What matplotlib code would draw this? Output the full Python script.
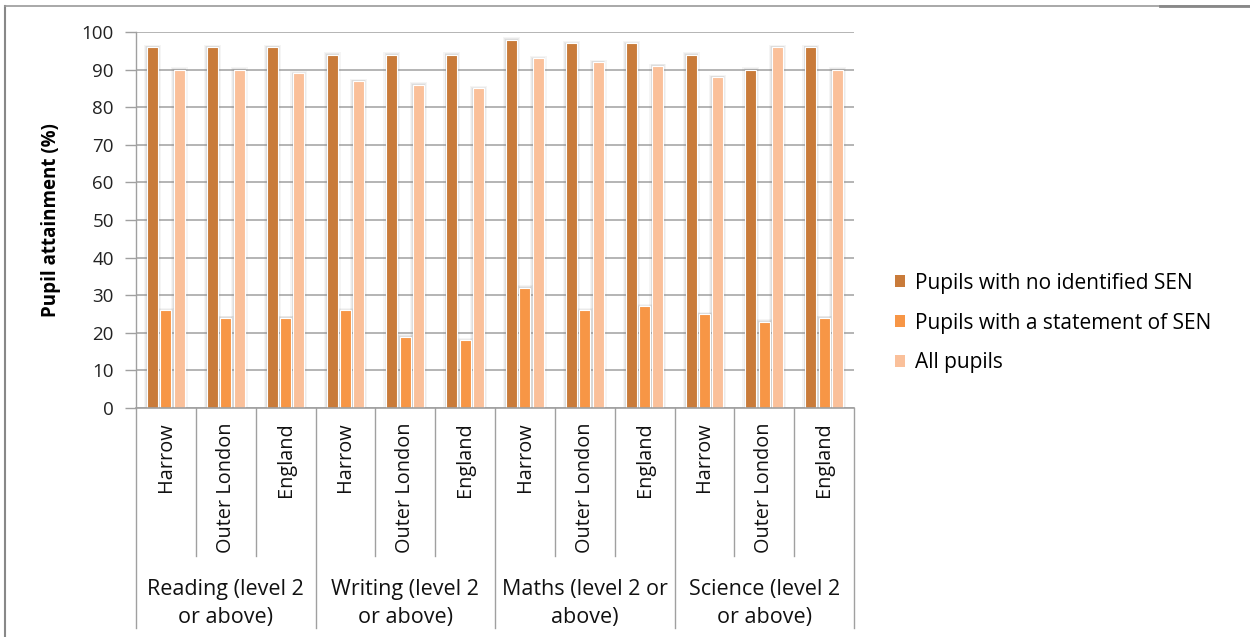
import matplotlib
matplotlib.use("Agg")
import matplotlib.pyplot as plt
import numpy as np
from matplotlib.lines import Line2D
from matplotlib.patches import Patch

areas = ["Harrow", "Outer London", "England"]
subjects = ["Reading (level 2\nor above)", "Writing (level 2\nor above)",
            "Maths (level 2 or\nabove)", "Science (level 2\nor above)"]
series_names = ["Pupils with no identified SEN", "Pupils with a statement of SEN", "All pupils"]

no_sen = [96, 96, 96, 94, 94, 94, 98, 97, 97, 94, 90, 96]
statement_sen = [26, 24, 24, 26, 19, 18, 32, 26, 27, 25, 23, 24]
all_pupils = [90, 90, 89, 87, 86, 85, 93, 92, 91, 88, 96, 90]

colors = ["#C97B3A", "#F79646", "#FAC09A"]
yticks = list(range(0, 101, 10))

plt.rcParams['font.family'] = ['Open Sans', 'DejaVu Sans']

fig = plt.figure(figsize=(12.5, 6.37), dpi=100)
ax = fig.add_axes([136/1250, 1-408/637, (854-136)/1250, 376/637])

n = len(no_sen)
x = np.arange(n) + 0.5
bw = 0.184
stride = 0.222
series = [no_sen, statement_sen, all_pupils]

# soft shadows
for k, vals in enumerate(series):
    xs = x + (k - 1) * stride
    for grow, a in [(0.10, 0.08), (0.06, 0.10), (0.03, 0.12)]:
        ax.bar(xs, np.array(vals) + grow * 6, width=bw + grow, color="#808080", alpha=a,
               linewidth=0, zorder=2)

for k, vals in enumerate(series):
    xs = x + (k - 1) * stride
    ax.bar(xs, vals, width=bw, color=colors[k], edgecolor="white", linewidth=0.8,
           zorder=3, label=series_names[k])

ax.set_xlim(0, n)
ax.set_ylim(0, 100)
ax.set_yticks(yticks)
ax.set_yticklabels([str(t) for t in yticks], fontsize=13.5, color="#222222")
ax.yaxis.grid(True, color="#A0A0A0", linewidth=1.1, zorder=0)
ax.set_axisbelow(True)
ax.tick_params(axis='y', length=8, color="#A0A0A0", width=1, pad=8)
ax.set_xticks([])
for s in ["top", "right", "bottom"]:
    ax.spines[s].set_visible(False)
ax.spines["left"].set_color("#A0A0A0")
ax.spines["left"].set_linewidth(1)

ax.set_ylabel("Pupil attainment (%)", fontsize=13.5, fontweight="bold")
ax.yaxis.set_label_coords(-0.105, 0.5)

trans = ax.get_xaxis_transform()
# baseline
ax.plot([0, n], [0, 0], transform=trans, color="#A0A0A0", lw=1.2, clip_on=False, zorder=4)
# separators
for i in range(n + 1):
    y_end = -0.585 if i % 3 == 0 else -0.394
    ax.plot([i, i], [0, y_end], transform=trans, color="#A0A0A0", lw=1, clip_on=False)

for i in range(n):
    ax.text(x[i], -0.038, areas[i % 3], rotation=90, ha="center", va="top",
            transform=trans, fontsize=14.3, color="#111111")

for g in range(4):
    ax.text(3 * g + 1.5, -0.52, subjects[g], ha="center", va="center",
            transform=trans, fontsize=15.5, color="#111111", linespacing=1.4)

handles = [Patch(facecolor=c, edgecolor="none") for c in colors]
fig.legend(handles, series_names, loc="center left", bbox_to_anchor=(895/1250, 1-323/637),
           frameon=False, fontsize=15, handlelength=0.5, handleheight=0.5,
           handletextpad=0.45, labelspacing=0.9, borderpad=0, borderaxespad=0)

# outer frame
fig.add_artist(Line2D([5/1250, 5/1250], [0, 1-6/637], transform=fig.transFigure,
                      color="#888888", lw=1.5))
fig.add_artist(Line2D([5/1250, 1], [1-6/637, 1-6/637], transform=fig.transFigure,
                      color="#999999", lw=1.2))
fig.add_artist(Line2D([1160/1250, 1], [1-5.5/637, 1-5.5/637], transform=fig.transFigure,
                      color="#888888", lw=2))

fig.savefig("out.png", dpi=100, facecolor="white")
